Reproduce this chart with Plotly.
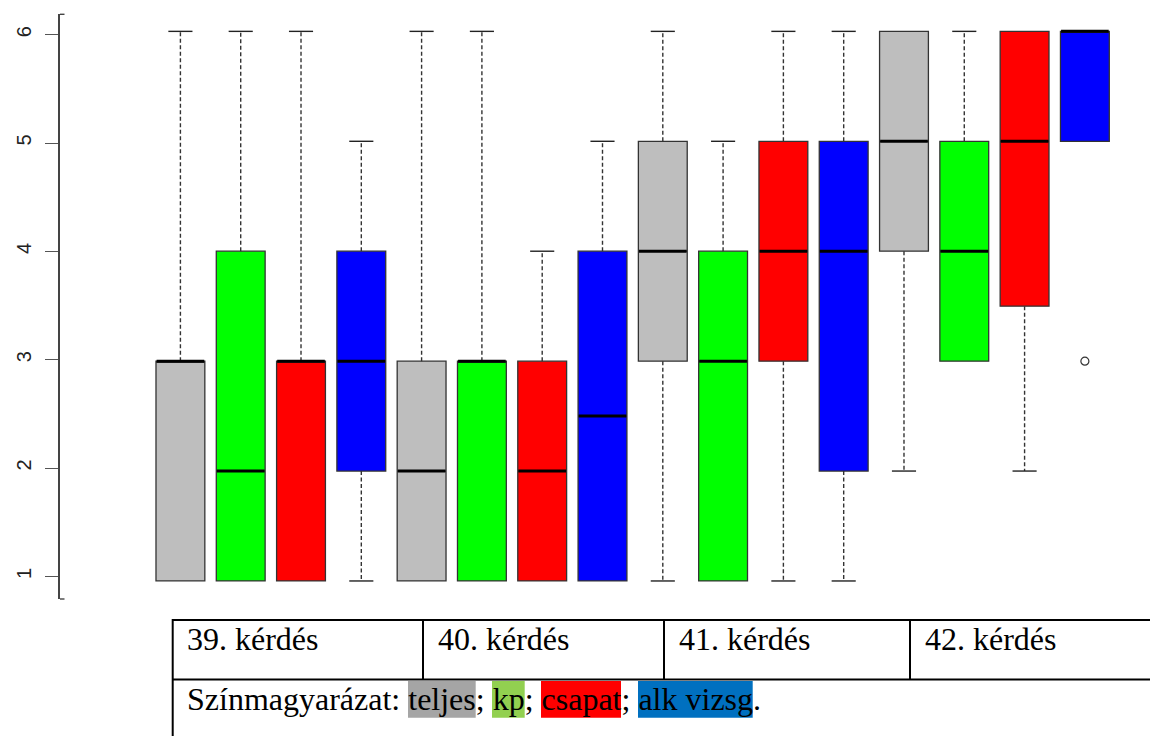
import plotly.graph_objects as go

# ---------------- data ----------------
questions = ["39. kérdés", "40. kérdés", "41. kérdés", "42. kérdés"]
groups = ["teljes", "kp", "csapat", "alk vizsg"]
group_colors = ["#BEBEBE", "#00FF00", "#FF0000", "#0000FF"]
legend_bg = ["#A5A5A5", "#92D050", "#FF0000", "#0070C0"]

# per group: values for questions 39..42
q1 = {
    "teljes":    [1, 1, 3, 4],
    "kp":        [1, 1, 1, 3],
    "csapat":    [1, 1, 3, 3.5],
    "alk vizsg": [2, 1, 2, 5],
}
median = {
    "teljes":    [3, 2, 4, 5],
    "kp":        [2, 3, 3, 4],
    "csapat":    [3, 2, 4, 5],
    "alk vizsg": [3, 2.5, 4, 6],
}
q3 = {
    "teljes":    [3, 3, 5, 6],
    "kp":        [4, 3, 4, 5],
    "csapat":    [3, 3, 5, 6],
    "alk vizsg": [4, 4, 5, 6],
}
lower = {
    "teljes":    [1, 1, 1, 2],
    "kp":        [1, 1, 1, 3],
    "csapat":    [1, 1, 1, 2],
    "alk vizsg": [1, 1, 1, 5],
}
upper = {
    "teljes":    [6, 6, 6, 6],
    "kp":        [6, 6, 5, 6],
    "csapat":    [6, 4, 6, 6],
    "alk vizsg": [5, 5, 6, 6],
}
outliers = {  # (question index, value)
    "alk vizsg": [(3, 3)],
}
y_ticks = [1, 2, 3, 4, 5, 6]

# ---------------- layout helpers ----------------
W, H = 1150, 736
L, R, T, B = 60, 0, 14, 137
PW, PH = W - L - R, H - T - B


def px(x):
    return (x - L) / PW


def py(y):
    return (H - B - y) / PH


BOXW = 0.81
CAPW = 0.40


def pos(qi, gi):
    return qi * len(groups) + gi + 1


fig = go.Figure()

for gi, g in enumerate(groups):
    xs = [pos(qi, gi) for qi in range(len(questions))]
    fig.add_trace(go.Box(
        x=xs, q1=q1[g], median=median[g], q3=q3[g],
        lowerfence=q1[g], upperfence=q3[g],
        width=BOXW, whiskerwidth=0,
        fillcolor=group_colors[gi],
        line=dict(color="#333333", width=1.3),
        boxpoints=False, showlegend=False, hoverinfo="skip",
    ))

# whiskers (dashed), caps, medians
wx, wy, cx, cy, mx, my = [], [], [], [], [], []
for gi, g in enumerate(groups):
    for qi in range(len(questions)):
        x0 = pos(qi, gi)
        for a, b in ((q1[g][qi], lower[g][qi]), (q3[g][qi], upper[g][qi])):
            if a != b:
                wx += [x0, x0, None]
                wy += [a, b, None]
                cx += [x0 - CAPW / 2, x0 + CAPW / 2, None]
                cy += [b, b, None]
        mx += [x0 - BOXW / 2 + 0.01, x0 + BOXW / 2 - 0.01, None]
        my += [median[g][qi], median[g][qi], None]

fig.add_trace(go.Scatter(x=wx, y=wy, mode="lines", showlegend=False, hoverinfo="skip",
                         line=dict(color="#333333", width=1.4, dash="4px,2.5px")))
fig.add_trace(go.Scatter(x=cx, y=cy, mode="lines", showlegend=False, hoverinfo="skip",
                         line=dict(color="#222222", width=1.4)))
fig.add_trace(go.Scatter(x=mx, y=my, mode="lines", showlegend=False, hoverinfo="skip",
                         line=dict(color="#000000", width=3)))

ox, oy = [], []
for g, pts in outliers.items():
    gi = groups.index(g)
    for qi, v in pts:
        ox.append(pos(qi, gi))
        oy.append(v)
fig.add_trace(go.Scatter(x=ox, y=oy, mode="markers", showlegend=False, hoverinfo="skip",
                         marker=dict(symbol="circle-open", size=8, color="#333333",
                                     line=dict(color="#333333", width=1.2))))

# dummy trace so the tick axis is rendered
fig.add_trace(go.Scatter(x=[None], y=[None], yaxis="y2", showlegend=False, hoverinfo="skip"))

n = len(questions) * len(groups)
fig.update_layout(
    width=W, height=H,
    margin=dict(l=L, r=R, t=T, b=B, pad=0),
    paper_bgcolor="white", plot_bgcolor="white",
    xaxis=dict(range=[-0.997, n + 1.08], visible=False, fixedrange=True),
    yaxis=dict(range=[0.836, 6.158], visible=False, fixedrange=True),
    yaxis2=dict(
        range=[0.791, 6.191], overlaying="y", side="left", anchor="x",
        tickvals=y_ticks, ticktext=[str(v) for v in y_ticks],
        ticks="outside", ticklen=13, tickwidth=1.3, tickcolor="#555555",
        showline=True, linecolor="#444444", linewidth=1.6,
        showgrid=False, zeroline=False, tickangle=-90,
        tickfont=dict(family="Liberation Sans, Arial", size=20, color="#222222"),
        ticklabelstandoff=6,
    ),
    showlegend=False,
)

# small frame stubs at top and bottom of the axis line
for yy in (14.3, 599):
    fig.add_shape(type="line", xref="paper", yref="paper",
                  x0=px(60), x1=px(64.5), y0=py(yy), y1=py(yy),
                  line=dict(color="#444444", width=1.4))

# ---------------- table below the plot ----------------
TBL = dict(color="black", width=2)
top_y, mid_y, left_x = 620, 679.5, 172.7
col_x = [172.7, 423, 664, 910]
fig.add_shape(type="line", xref="paper", yref="paper",
              x0=px(left_x), x1=px(W), y0=py(top_y), y1=py(top_y), line=TBL)
fig.add_shape(type="line", xref="paper", yref="paper",
              x0=px(left_x), x1=px(W), y0=py(mid_y), y1=py(mid_y), line=TBL)
fig.add_shape(type="line", xref="paper", yref="paper",
              x0=px(left_x), x1=px(left_x), y0=py(top_y - 1), y1=py(H + 2), line=TBL)
for cxp in col_x[1:]:
    fig.add_shape(type="line", xref="paper", yref="paper",
                  x0=px(cxp), x1=px(cxp), y0=py(top_y), y1=py(mid_y), line=TBL)

SERIF = "Liberation Serif, Times New Roman, serif"
FS = 32
for qi, q in enumerate(questions):
    fig.add_annotation(text=q, xref="paper", yref="paper", x=px(col_x[qi] + 12.5), y=py(639),
                       xanchor="left", yanchor="middle", showarrow=False,
                       font=dict(family=SERIF, size=FS, color="black"))

# legend highlight rectangles
hl = [(408, 475.7), (492, 524.7), (541, 621), (638, 752.7)]
for (a, b), col in zip(hl, legend_bg):
    fig.add_shape(type="rect", xref="paper", yref="paper", layer="below",
                  x0=px(a), x1=px(b), y0=py(717.7), y1=py(681),
                  line=dict(width=0), fillcolor=col)

legend_text = "Színmagyarázat: " + "; ".join(groups) + "."
fig.add_annotation(text=legend_text, xref="paper", yref="paper", x=px(185), y=py(699),
                   xanchor="left", yanchor="middle", showarrow=False,
                   font=dict(family=SERIF, size=FS, color="black"))

fig.write_html("out.html")
